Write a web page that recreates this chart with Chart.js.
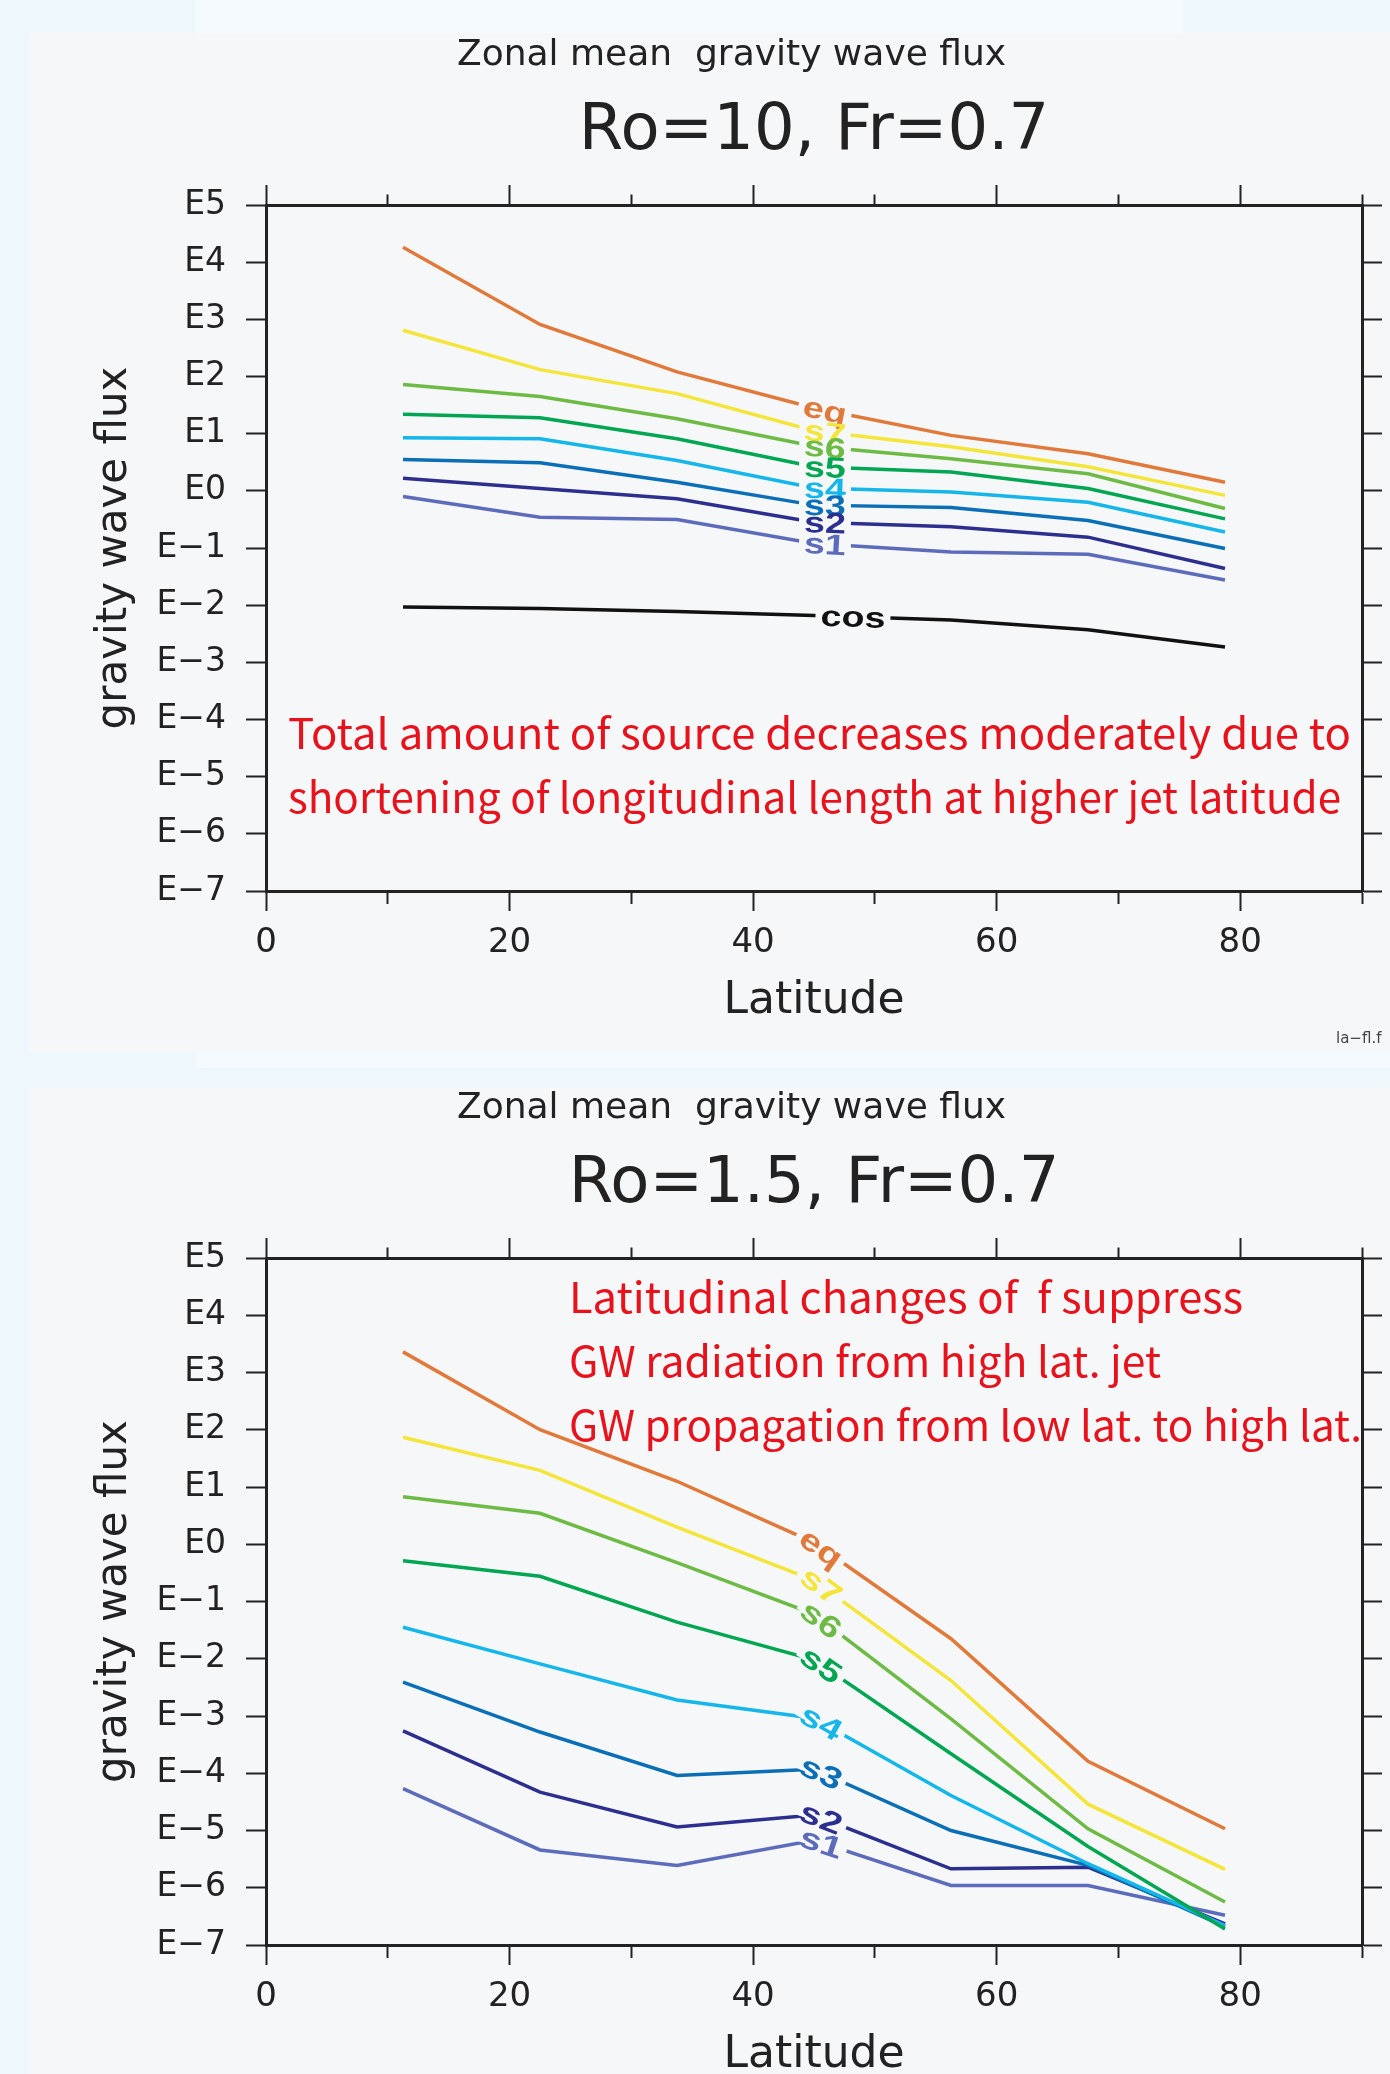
<!DOCTYPE html>
<html>
<head>
<meta charset="utf-8">
<title>Zonal mean gravity wave flux</title>
<script src="https://cdn.jsdelivr.net/npm/chart.js@4.4.1/dist/chart.umd.min.js"></script>
<style>
  html, body { margin: 0; padding: 0; }
  body { width: 1390px; height: 2074px; position: relative; overflow: hidden; background: #eef7fb; }
  .band { position: absolute; }
  .panel { position: absolute; left: 29px; width: 1361px; background: #f6f7f9; }
  canvas { position: absolute; left: 0; }
</style>
</head>
<body>
<div class="band" style="left:195px;top:0;width:988px;height:33px;background:#f4fafd"></div>
<div class="panel" style="top:33px;height:1019px"></div>
<div class="band" style="left:196px;top:1052px;width:1194px;height:16px;background:#f4fafd"></div>
<div class="panel" style="top:1087px;height:987px"></div>
<canvas id="fluxRo10" width="1390" height="1053" style="top:0"></canvas>
<canvas id="fluxRo15" width="1390" height="1021" style="top:1053px"></canvas>
<script>
// latitudes of the jet experiments
var latitudes = [11.25, 22.5, 33.75, 45, 56.25, 67.5, 78.75];

// decade labels for the log axis
var yTickLabels = ['E\u22127', 'E\u22126', 'E\u22125', 'E\u22124', 'E\u22123', 'E\u22122', 'E\u22121',
                   'E0', 'E1', 'E2', 'E3', 'E4', 'E5'];

var seriesNames = ['eq', 's7', 's6', 's5', 's4', 's3', 's2', 's1'];
var seriesColors = ['#e1793a', '#f4e53a', '#6dbb45', '#00a651', '#15b6ea', '#0b6fb8', '#2d2f8f', '#5c6cbb'];

// Ro=10, Fr=0.7  (log10 of flux)
var ro10Eq = [4.26, 2.91, 2.08, 1.45, 0.97, 0.65, 0.15];
var ro10S7 = [2.81, 2.12, 1.70, 1.05, 0.77, 0.42, -0.08];
var ro10S6 = [1.86, 1.65, 1.26, 0.78, 0.56, 0.30, -0.31];
var ro10S5 = [1.34, 1.28, 0.91, 0.42, 0.33, 0.04, -0.49];
var ro10S4 = [0.93, 0.91, 0.53, 0.05, -0.02, -0.20, -0.72];
var ro10S3 = [0.55, 0.49, 0.15, -0.25, -0.29, -0.52, -1.01];
var ro10S2 = [0.22, 0.04, -0.14, -0.55, -0.63, -0.81, -1.36];
var ro10S1 = [-0.10, -0.46, -0.50, -0.92, -1.07, -1.11, -1.56];
var ro10Cos = [-2.03, -2.06, -2.11, -2.18, -2.26, -2.43, -2.73];

// Ro=1.5, Fr=0.7  (log10 of flux)
var ro15Eq = [3.36, 2.00, 1.10, 0.03, -1.65, -3.79, -4.97];
var ro15S7 = [1.87, 1.29, 0.30, -0.63, -2.38, -4.54, -5.68];
var ro15S6 = [0.83, 0.54, -0.32, -1.22, -3.05, -4.97, -6.25];
var ro15S5 = [-0.29, -0.56, -1.36, -2.02, -3.66, -5.28, -6.72];
var ro15S4 = [-1.45, -2.09, -2.72, -3.04, -4.39, -5.58, -6.66];
var ro15S3 = [-2.41, -3.28, -4.04, -3.93, -5.00, -5.61, -6.68];
var ro15S2 = [-3.26, -4.33, -4.94, -4.73, -5.67, -5.64, -6.63];
var ro15S1 = [-4.27, -5.34, -5.61, -5.17, -5.96, -5.96, -6.48];

var PANEL_BG = '#f6f7f9';
var INK = '#222';

function line(name, color, values, labelAt) {
  return {
    label: name,
    data: latitudes.map(function (lat, k) { return { x: lat, y: values[k] }; }),
    borderColor: color,
    borderWidth: 3.5,
    pointRadius: 0,
    tension: 0,
    labelAt: labelAt,
    xAxisID: 'x',
    yAxisID: 'y'
  };
}

// contour-style labels, titles and red notes
var gwText = {
  id: 'gwText',
  afterDatasetsDraw: function (chart, args, opts) {
    var ctx = chart.ctx;
    var xScale = chart.scales.x;
    var marks = [];
    chart.data.datasets.forEach(function (ds, i) {
      var pts = chart.getDatasetMeta(i).data;
      var px = xScale.getPixelForValue(ds.labelAt);
      for (var k = 0; k < pts.length - 1; k++) {
        var a = pts[k], b = pts[k + 1];
        if (px >= a.x && px <= b.x) {
          var t = (px - a.x) / (b.x - a.x);
          marks.push({ text: ds.label, color: ds.borderColor, x: px,
                       y: a.y + t * (b.y - a.y), angle: Math.atan2(b.y - a.y, b.x - a.x) });
          break;
        }
      }
    });
    ctx.save();
    ctx.font = 'bold ' + opts.labelSize + 'px "Liberation Sans", Arial, sans-serif';
    ctx.textAlign = 'center';
    ctx.textBaseline = 'middle';
    // open a gap in each line where its label goes
    marks.forEach(function (m) {
      var w = ctx.measureText(m.text).width * opts.labelStretch + 10;
      ctx.save();
      ctx.translate(m.x, m.y);
      ctx.rotate(m.angle);
      ctx.fillStyle = PANEL_BG;
      ctx.fillRect(-w / 2, -6, w, 12);
      ctx.restore();
    });
    marks.forEach(function (m) {
      ctx.save();
      ctx.translate(m.x, m.y);
      ctx.rotate(m.angle);
      ctx.scale(opts.labelStretch, 1);
      ctx.fillStyle = m.color;
      ctx.fillText(m.text, 0, 2);
      ctx.restore();
    });
    ctx.restore();
  },
  afterDraw: function (chart, args, opts) {
    var ctx = chart.ctx, area = chart.chartArea;
    var mid = (area.left + area.right) / 2;
    ctx.save();
    ctx.fillStyle = INK;
    ctx.textBaseline = 'alphabetic';
    ctx.textAlign = 'left';
    ctx.font = '36px "DejaVu Sans"';
    ctx.fillText(opts.heading, area.left + 191, area.top - 140);
    ctx.textAlign = 'center';
    ctx.font = '64px "DejaVu Sans"';
    ctx.fillText(opts.title, mid, area.top - 56);

    ctx.textAlign = 'left';
    ctx.fillStyle = '#e8121c';
    ctx.font = opts.noteSize + 'px "Noto Sans CJK JP", sans-serif';
    opts.notes.forEach(function (note, i) {
      var w = ctx.measureText(note.text).width;
      ctx.save();
      ctx.translate(area.left + opts.noteLeft, area.top + opts.noteTop + i * 64);
      ctx.scale(note.width / w, 1);
      ctx.fillText(note.text, 0, 0);
      ctx.restore();
    });

    if (opts.footer) {
      ctx.fillStyle = '#444';
      ctx.font = '15px "DejaVu Sans"';
      ctx.fillText(opts.footer, area.right - 26, area.bottom + 152);
    }
    ctx.restore();
  }
};

// every 10 degrees gets a tick, the odd ones are drawn short through a dash pattern
function minorTick(c) {
  return c.tick && Math.round(c.tick.value) % 20 !== 0;
}

function buildScales() {
  var edge = { display: true, color: INK, width: 3 };
  var marks = { drawOnChartArea: false, drawTicks: true, tickLength: 20, tickWidth: 2, color: INK, tickColor: INK };
  return {
    x: {
      type: 'linear', position: 'bottom', min: 0, max: 90,
      ticks: { stepSize: 10, autoSkip: false, maxRotation: 0, padding: 12, color: INK, font: { size: 34 },
               callback: function (v) { return v % 20 ? '' : v; } },
      grid: Object.assign({}, marks, {
        tickBorderDash: function (c) { return minorTick(c) ? [11, 40] : []; }
      }),
      border: edge,
      title: { display: true, text: 'Latitude', color: INK,
               font: { size: 44, lineHeight: 0.8 }, padding: { top: 0, bottom: 1 } },
      afterFit: function (s) { s.height = 129; }
    },
    xTop: {
      type: 'linear', position: 'top', min: 0, max: 90,
      ticks: { display: false, stepSize: 10 },
      grid: Object.assign({}, marks, {
        tickBorderDash: function (c) { return minorTick(c) ? [0, 9.5, 20] : []; }
      }),
      border: edge,
      afterFit: function (s) { s.height = 0; }
    },
    y: {
      type: 'linear', position: 'left', min: -7, max: 5,
      ticks: { stepSize: 1, autoSkip: false, padding: 20, color: INK, font: { size: 33 },
               callback: function (v) { return yTickLabels[v + 7]; } },
      grid: marks,
      border: edge,
      title: { display: true, text: 'gravity wave flux', color: INK,
               font: { size: 42, lineHeight: 1 }, padding: { top: 94, bottom: 0 } },
      afterFit: function (s) { s.width = 266; }
    },
    yRight: {
      type: 'linear', position: 'right', min: -7, max: 5,
      ticks: { display: false, stepSize: 1 },
      grid: marks,
      border: edge,
      afterFit: function (s) { s.width = 20; }
    }
  };
}

Chart.defaults.font.family = '"DejaVu Sans", sans-serif';
Chart.defaults.color = INK;

function makeChart(id, seriesList, extra, text, padBottom, labelAt) {
  var datasets = seriesList.map(function (vals, i) {
    return line(seriesNames[i], seriesColors[i], vals, labelAt);
  });
  extra.forEach(function (d) { datasets.push(d); });
  return new Chart(document.getElementById(id), {
    type: 'line',
    data: { datasets: datasets },
    options: {
      responsive: false,
      animation: false,
      devicePixelRatio: 1,
      layout: { autoPadding: false, padding: { left: 0, right: 8, top: 205, bottom: padBottom } },
      scales: buildScales(),
      plugins: {
        legend: { display: false },
        tooltip: { enabled: false },
        gwText: text
      }
    },
    plugins: [gwText]
  });
}

makeChart('fluxRo10',
  [ro10Eq, ro10S7, ro10S6, ro10S5, ro10S4, ro10S3, ro10S2, ro10S1],
  [line('cos', '#111111', ro10Cos, 48.2)],
  {
    heading: 'Zonal mean  gravity wave flux',
    title: 'Ro=10, Fr=0.7',
    labelSize: 29, labelStretch: 1.3,
    noteSize: 42, noteLeft: 22, noteTop: 544,
    notes: [
      { text: 'Total amount of source decreases moderately due to', width: 1063 },
      { text: 'shortening of longitudinal length at higher jet latitude', width: 1053 }
    ],
    footer: 'la\u2212fl.f'
  }, 33, 45.9);

makeChart('fluxRo15',
  [ro15Eq, ro15S7, ro15S6, ro15S5, ro15S4, ro15S3, ro15S2, ro15S1],
  [],
  {
    heading: 'Zonal mean  gravity wave flux',
    title: 'Ro=1.5, Fr=0.7',
    labelSize: 30, labelStretch: 1.3,
    noteSize: 42, noteLeft: 303, noteTop: 55,
    notes: [
      { text: 'Latitudinal changes of  f suppress', width: 674 },
      { text: 'GW radiation from high lat. jet', width: 592 },
      { text: 'GW propagation from low lat. to high lat.', width: 793 }
    ],
    footer: ''
  }, 0, 45.6);
</script>
</body>
</html>
